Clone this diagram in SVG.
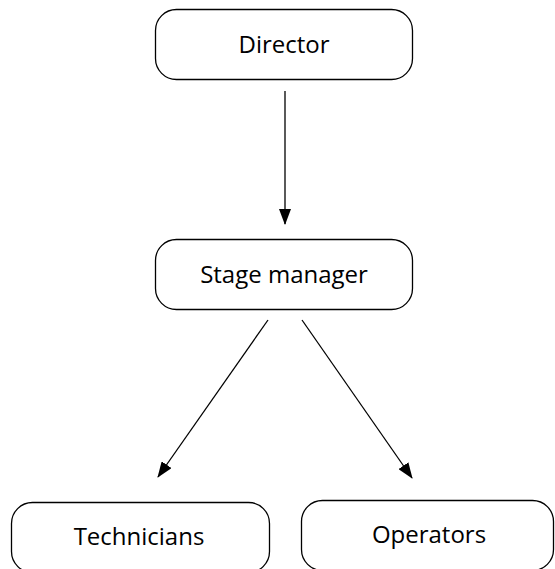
<svg xmlns="http://www.w3.org/2000/svg" width="555" height="569" viewBox="0 0 555 569">
<defs>
<marker id="ah" markerWidth="16" markerHeight="12" refX="15" refY="6" orient="auto" markerUnits="userSpaceOnUse">
<path d="M0,0 L16,6 L0,12 Z" fill="#000"/>
</marker>
<style>
.box{fill:#fff;stroke:#000;stroke-width:1.3}
.lbl{font-family:"Open Sans","Liberation Sans",sans-serif;font-size:24px;fill:#000;text-anchor:middle}
.edge{stroke:#000;stroke-width:1.3;fill:none;marker-end:url(#ah)}
</style>
</defs>
<rect width="555" height="569" fill="#fff"/>
<g id="connectors">
<line class="edge" x1="285" y1="91" x2="285" y2="224"/>
<line class="edge" x1="268" y1="320" x2="158" y2="477"/>
<line class="edge" x1="302" y1="320" x2="412" y2="478"/>
</g>
<g id="director">
<rect class="box" x="155.5" y="9.5" width="257" height="70" rx="21" ry="21"/>
<text class="lbl" x="284" y="53">Director</text>
</g>
<g id="stage-manager">
<rect class="box" x="155.5" y="239.5" width="257" height="70" rx="21" ry="21"/>
<text class="lbl" x="284" y="283">Stage manager</text>
</g>
<g id="technicians">
<rect class="box" x="11.5" y="502.5" width="258" height="70" rx="21" ry="21"/>
<text class="lbl" x="139" y="545">Technicians</text>
</g>
<g id="operators">
<rect class="box" x="301.5" y="500.5" width="252" height="70" rx="21" ry="21"/>
<text class="lbl" x="429" y="543">Operators</text>
</g>
</svg>
